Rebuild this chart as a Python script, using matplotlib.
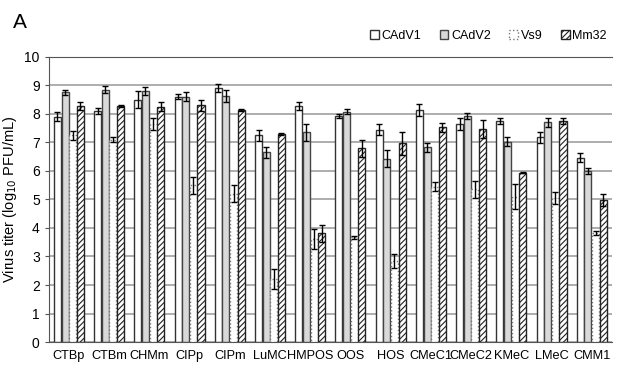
import numpy as np
import matplotlib.pyplot as plt

plt.rcParams['font.family'] = ['Liberation Sans', 'DejaVu Sans']
plt.rcParams['hatch.color'] = '#333333'
plt.rcParams['hatch.linewidth'] = 0.8

cells = ["CTBp", "CTBm", "CHMm", "CIPp", "CIPm", "LuMC", "HMPOS", "OOS",
         "HOS", "CMeC1", "CMeC2", "KMeC", "LMeC", "CMM1"]

cadv1 = [7.9, 8.1, 8.5, 8.6, 8.9, 7.25, 8.28, 7.94, 7.45, 8.14, 7.64, 7.75, 7.18, 6.47]
cadv2 = [8.75, 8.85, 8.8, 8.6, 8.63, 6.65, 7.35, 8.08, 6.42, 6.83, 7.93, 7.03, 7.7, 6.0]
vs9 = [7.25, 7.1, 7.65, 5.5, 5.2, 2.2, 3.6, 3.67, 2.85, 5.45, 5.35, 5.1, 5.05, 3.83]
mm32 = [8.27, 8.27, 8.25, 8.3, 8.13, 7.29, 3.82, 6.8, 6.97, 7.53, 7.47, 5.94, 7.76, 4.98]

cadv1_sd = [0.15, 0.12, 0.3, 0.08, 0.15, 0.2, 0.15, 0.07, 0.2, 0.2, 0.2, 0.1, 0.2, 0.15]
cadv2_sd = [0.1, 0.12, 0.15, 0.15, 0.2, 0.2, 0.3, 0.1, 0.3, 0.15, 0.1, 0.15, 0.15, 0.1]
vs9_sd = [0.15, 0.08, 0.2, 0.3, 0.3, 0.35, 0.35, 0.05, 0.25, 0.15, 0.3, 0.45, 0.2, 0.08]
mm32_sd = [0.15, 0.03, 0.15, 0.2, 0.03, 0.03, 0.3, 0.3, 0.4, 0.15, 0.3, 0.03, 0.1, 0.2]

series = [
    ("CAdV1", cadv1, cadv1_sd, dict(color="white", edgecolor="#333333", linewidth=1.0)),
    ("CAdV2", cadv2, cadv2_sd, dict(color="#d9d9d9", edgecolor="#444444", linewidth=1.0)),
    ("Vs9", vs9, vs9_sd, dict(color="white", edgecolor="#777777", linewidth=1.0, linestyle=":")),
    ("Mm32", mm32, mm32_sd, dict(color="white", edgecolor="#222222", linewidth=1.0, hatch="//////")),
]

fig = plt.figure(figsize=(6.25, 3.69), dpi=100)
ax = fig.add_axes([0.078, 0.073, 0.901, 0.773])

x = np.arange(len(cells))
w = 0.19
for i, (name, vals, sd, style) in enumerate(series):
    pos = x + (i - 1.5) * w
    ax.bar(pos, vals, w * 0.92, label=name, zorder=2, **style)
    ax.errorbar(pos, vals, yerr=sd, fmt="none", ecolor="black", elinewidth=1.0,
                capsize=2, capthick=1.0, zorder=3)

ax.set_xlim(-0.5, len(cells) - 0.5)
ax.set_ylim(0, 10)
ax.set_yticks(range(0, 11))
ax.yaxis.grid(True, color="#a0a0a0", linewidth=1.2, zorder=0)
ax.set_axisbelow(True)
ax.set_xticks(x)
ax.set_xticklabels(cells, fontsize=9.2)
ax.tick_params(axis="x", length=0, pad=6)
ax.tick_params(axis="y", labelsize=10, length=3, color="#555555")
ax.spines["right"].set_visible(False)
ax.spines["top"].set_color("#555555")
ax.spines["left"].set_color("#555555")
ax.spines["bottom"].set_color("#555555")
ax.set_ylabel("Virus titer (log$_{10}$ PFU/mL)", fontsize=10.5)

ax.legend(loc="lower right", bbox_to_anchor=(1.0, 1.035), ncol=4, frameon=False,
          fontsize=9, handlelength=0.7, handleheight=0.7, handletextpad=0.2,
          columnspacing=1.5, borderaxespad=0)

fig.text(0.02, 0.924, "A", fontsize=15)

fig.savefig("out.png", dpi=100)
